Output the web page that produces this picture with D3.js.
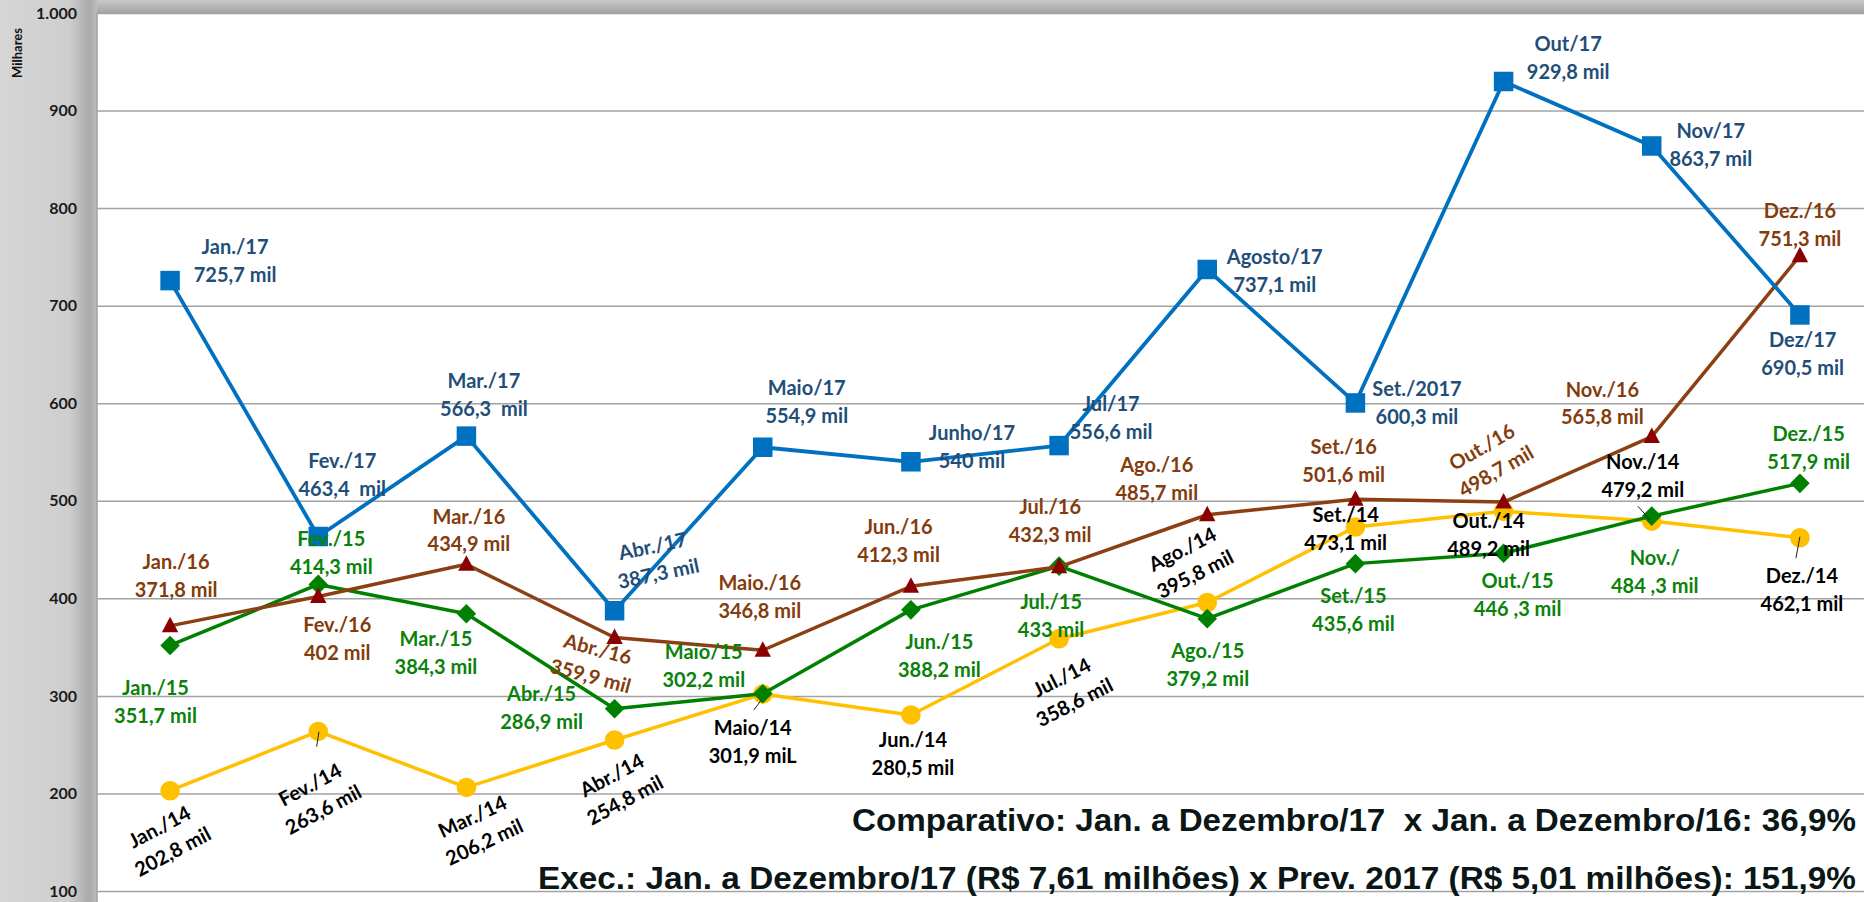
<!DOCTYPE html>
<html>
<head>
<meta charset="utf-8">
<script src="https://cdn.jsdelivr.net/npm/d3@7"></script>
<style>
  html, body { margin: 0; padding: 0; background: #fff; }
  svg { display: block; }
  .lbl { font-family: Lato, "Open Sans", sans-serif; font-weight: 700; font-size: 20px; white-space: pre; }
  .tick text { font-family: Lato, sans-serif; font-weight: 700; font-size: 16px; fill: #1a1a1a; }
  .note { font-family: "Liberation Sans", Arial, sans-serif; font-weight: 700; font-size: 31.5px; fill: #0b1616; white-space: pre; }
</style>
</head>
<body>
<script>
// ---------------- DATA ----------------
const months = ["Jan", "Fev", "Mar", "Abr", "Mai", "Jun", "Jul", "Ago", "Set", "Out", "Nov", "Dez"];
const yTicks = [100, 200, 300, 400, 500, 600, 700, 800, 900, 1000];
const yTickLabels = ["100", "200", "300", "400", "500", "600", "700", "800", "900", "1.000"];
const yTitle = "Milhares";

const values2017 = [725.7, 463.4, 566.3, 387.3, 554.9, 540.0, 556.6, 737.1, 600.3, 929.8, 863.7, 690.5];
const values2016 = [371.8, 402.0, 434.9, 359.9, 346.8, 412.3, 432.3, 485.7, 501.6, 498.7, 565.8, 751.3];
const values2015 = [351.7, 414.3, 384.3, 286.9, 302.2, 388.2, 433.0, 379.2, 435.6, 446.3, 484.3, 517.9];
const values2014 = [202.8, 263.6, 206.2, 254.8, 301.9, 280.5, 358.6, 395.8, 473.1, 489.2, 479.2, 462.1];

const names2017 = ["Jan./17", "Fev./17", "Mar./17", "Abr./17", "Maio/17", "Junho/17", "Jul/17", "Agosto/17", "Set./2017", "Out/17", "Nov/17", "Dez/17"];
const texts2017 = ["725,7 mil", "463,4  mil", "566,3  mil", "387,3 mil", "554,9 mil", "540 mil", "556,6 mil", "737,1 mil", "600,3 mil", "929,8 mil", "863,7 mil", "690,5 mil"];
const names2016 = ["Jan./16", "Fev./16", "Mar./16", "Abr./16", "Maio./16", "Jun./16", "Jul./16", "Ago./16", "Set./16", "Out./16", "Nov./16", "Dez./16"];
const texts2016 = ["371,8 mil", "402 mil", "434,9 mil", "359,9 mil", "346,8 mil", "412,3 mil", "432,3 mil", "485,7 mil", "501,6 mil", "498,7 mil", "565,8 mil", "751,3 mil"];
const names2015 = ["Jan./15", "Fev./15", "Mar./15", "Abr./15", "Maio/15", "Jun./15", "Jul./15", "Ago./15", "Set./15", "Out./15", "Nov./", "Dez./15"];
const texts2015 = ["351,7 mil", "414,3 mil", "384,3 mil", "286,9 mil", "302,2 mil", "388,2 mil", "433 mil", "379,2 mil", "435,6 mil", "446 ,3 mil", "484 ,3 mil", "517,9 mil"];
const names2014 = ["Jan./14", "Fev./14", "Mar./14", "Abr./14", "Maio/14", "Jun./14", "Jul./14", "Ago./14", "Set./14", "Out./14", "Nov./14", "Dez./14"];
const texts2014 = ["202,8 mil", "263,6 mil", "206,2 mil", "254,8 mil", "301,9 miL", "280,5 mil", "358,6 mil", "395,8 mil", "473,1 mil", "489,2 mil", "479,2 mil", "462,1 mil"];

const note1 = "Comparativo: Jan. a Dezembro/17  x Jan. a Dezembro/16: 36,9%";
const note2 = "Exec.: Jan. a Dezembro/17 (R$ 7,61 milhões) x Prev. 2017 (R$ 5,01 milhões): 151,9%";

// ---------------- LAYOUT (label offsets: dx, dy, rotation) ----------------
const labelPos2017 = [[65,-20,0],[24,-62,0],[17.5,-41,0],[41,-51,-12],[44,-45,0],[61,-15,0],[52,-28,0],[67.5,1.5,0],[61.5,0,0],[64.6,-24,0],[59,-1,0],[2.7,38.5,0]];
const labelPos2016 = [[6,-50,0],[19,42.6,0],[2.5,-34,0],[-20.4,25,15],[-3,-53.6,0],[-12.4,-46,0],[-9,-46,0],[-50.5,-35.7,0],[-11.7,-38.7,0],[-14.7,-43,-30],[-49.4,-33.3,0],[0,-31,0]];
const labelPos2015 = [[-14.6,56.7,0],[13,-32,0],[-30.5,39.6,0],[-73,-1,0],[-59,-28,0],[28.4,46,0],[-8,49.3,0],[0.5,45.8,0],[-2,46,0],[14,41.5,0],[3,56,0],[8.7,-35.8,0]];
const labelPos2014 = [[-4,48.4,-28],[-1.6,65.6,-28],[12,41.8,-25],[3.8,47.5,-28],[-10,48,0],[2,39,0],[9,51,-27],[-18.5,-40.8,-27],[-9.7,1.8,0],[-15,23,0],[-9,-44.8,0],[2,52,0]];
const leaders2014 = {1: [0.7,0.3,-1.6,15.3], 4: [-1.5,6,-9,16], 10: [-14,-15,-1.4,-1], 11: [0,-1,-4,20.5]};

const W = 1864, H = 902;
const plotLeft = 97, plotTop = 13;

const svg = d3.select("body").append("svg").attr("width", W).attr("height", H);
const defs = svg.append("defs");

const gLeft = defs.append("linearGradient").attr("id", "gLeft").attr("x1", 0).attr("x2", 1).attr("y1", 0).attr("y2", 0);
gLeft.append("stop").attr("offset", "0%").attr("stop-color", "#d6d6d6");
gLeft.append("stop").attr("offset", "72%").attr("stop-color", "#cecece");
gLeft.append("stop").attr("offset", "92%").attr("stop-color", "#a9a9a9");
gLeft.append("stop").attr("offset", "100%").attr("stop-color", "#bdbdbd");
const gTop = defs.append("linearGradient").attr("id", "gTop").attr("x1", 0).attr("x2", 0).attr("y1", 0).attr("y2", 1);
gTop.append("stop").attr("offset", "0%").attr("stop-color", "#c9c9c9");
gTop.append("stop").attr("offset", "100%").attr("stop-color", "#a4a4a4");

svg.append("rect").attr("x", 0).attr("y", 0).attr("width", plotLeft).attr("height", H).attr("fill", "url(#gLeft)");
svg.append("rect").attr("x", plotLeft).attr("y", 0).attr("width", W - plotLeft).attr("height", plotTop).attr("fill", "url(#gTop)");
svg.append("rect").attr("x", plotLeft).attr("y", plotTop).attr("width", W - plotLeft).attr("height", H - plotTop).attr("fill", "#fff");

// scales
const x = d3.scalePoint().domain(months).range([96, 1874]).padding(0.5);
const y = d3.scaleLinear().domain([0, 1000]).range([13 + 975.6, 13]);

// axis + gridlines
const axis = d3.axisLeft(y).tickValues(yTicks)
  .tickFormat((d, i) => yTickLabels[i])
  .tickSize(-(W - plotLeft)).tickPadding(20);
const ga = svg.append("g").attr("transform", `translate(${plotLeft},0)`).call(axis);
ga.select(".domain").remove();
ga.selectAll(".tick line").attr("stroke", "#a2a2a2").attr("stroke-width", 1.5);
ga.selectAll(".tick text").attr("font-family", null).attr("font-size", null);
svg.append("line").attr("x1", plotLeft).attr("x2", plotLeft).attr("y1", plotTop).attr("y2", H)
  .attr("stroke", "#a2a2a2").attr("stroke-width", 1.5);

svg.append("text").attr("class", "lbl")
  .attr("transform", "translate(22,53) rotate(-90)")
  .attr("text-anchor", "middle").style("font-size", "13px").attr("fill", "#111")
  .text(yTitle);

// series
const series = [
  { vals: values2014, names: names2014, texts: texts2014, pos: labelPos2014, line: "#FFC000", mark: "#FFC000", lab: "#000000", shape: "circle" },
  { vals: values2015, names: names2015, texts: texts2015, pos: labelPos2015, line: "#008000", mark: "#008000", lab: "#0a820a", shape: "diamond" },
  { vals: values2016, names: names2016, texts: texts2016, pos: labelPos2016, line: "#8B3F12", mark: "#8B0000", lab: "#843C0C", shape: "triangle" },
  { vals: values2017, names: names2017, texts: texts2017, pos: labelPos2017, line: "#0070C0", mark: "#0070C0", lab: "#1F4E79", shape: "square" }
];
const shapes = {
  square: "M-9.75,-9.75H9.75V9.75H-9.75Z",
  diamond: "M0,-9.8L9.8,0L0,9.8L-9.8,0Z",
  triangle: "M0,-9L8.2,6.5L-8.2,6.5Z"
};

const lineGen = d3.line().x((d, i) => x(months[i])).y(d => y(d));

series.forEach(s => {
  const g = svg.append("g");
  g.append("path").datum(s.vals).attr("d", lineGen)
    .attr("fill", "none").attr("stroke", s.line).attr("stroke-width", s.shape === "square" ? 3.8 : 3.5)
    .attr("stroke-linejoin", "round");
  const m = g.selectAll(".m").data(s.vals).enter();
  if (s.shape === "circle") {
    m.append("circle").attr("cx", (d, i) => x(months[i])).attr("cy", d => y(d)).attr("r", 9.8).attr("fill", s.mark);
  } else {
    m.append("path").attr("d", shapes[s.shape])
      .attr("transform", (d, i) => `translate(${x(months[i])},${y(d)})`).attr("fill", s.mark);
  }
});

// leader lines (2014)
Object.keys(leaders2014).forEach(k => {
  const i = +k, L = leaders2014[k];
  const px = x(months[i]), py = y(values2014[i]);
  svg.append("line").attr("x1", px + L[0]).attr("y1", py + L[1]).attr("x2", px + L[2]).attr("y2", py + L[3])
    .attr("stroke", "#222").attr("stroke-width", 1);
});

// labels
series.forEach(s => {
  s.vals.forEach((v, i) => {
    const p = s.pos[i];
    const g = svg.append("g")
      .attr("transform", `translate(${x(months[i]) + p[0]},${y(v) + p[1]}) rotate(${p[2]})`);
    [s.names[i], s.texts[i]].forEach((t, j) => {
      g.append("text").attr("class", "lbl").attr("fill", s.lab)
        .attr("text-anchor", "middle").attr("y", j === 0 ? -14 : 14).attr("dy", "0.36em")
        .text(t);
    });
  });
});

// notes
svg.append("text").attr("class", "note").attr("x", 852).attr("y", 831)
  .attr("textLength", 1004).attr("lengthAdjust", "spacingAndGlyphs").text(note1);
svg.append("text").attr("class", "note").attr("x", 538).attr("y", 889)
  .attr("textLength", 1318).attr("lengthAdjust", "spacingAndGlyphs").text(note2);
</script>
</body>
</html>
